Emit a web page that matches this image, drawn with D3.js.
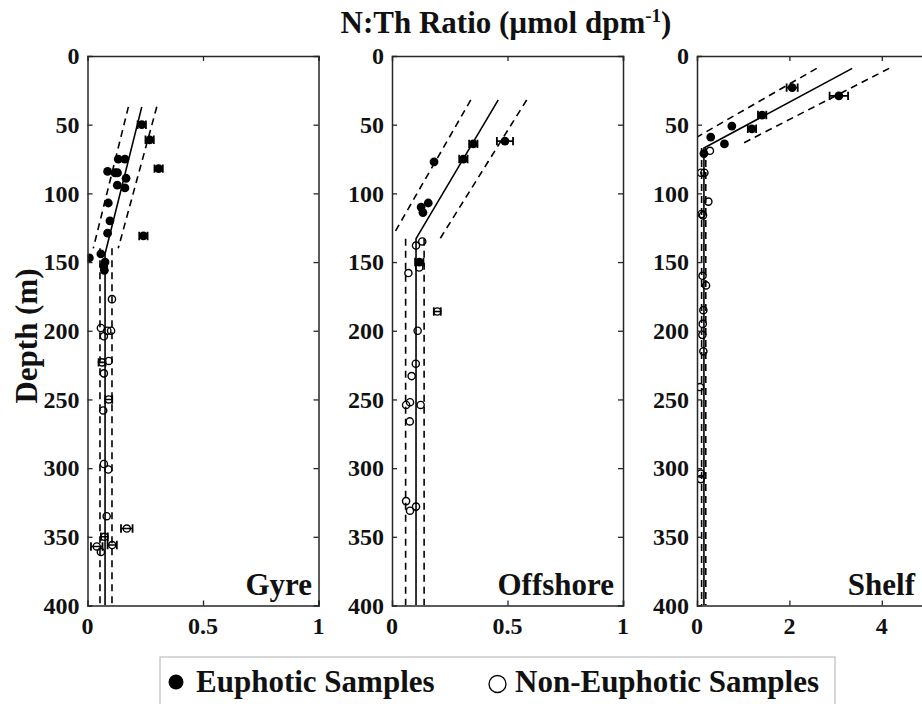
<!DOCTYPE html>
<html>
<head>
<meta charset="utf-8">
<script src="https://cdn.jsdelivr.net/npm/d3@7"></script>
<style>
  html, body { margin: 0; padding: 0; background: #fff; }
  svg { display: block; }
  text { font-family: "Liberation Serif", "Times New Roman", serif; font-weight: bold; fill: #111; }
</style>
</head>
<body>
<script>
// ---------------- DATA ----------------
const panelNames = ["Gyre", "Offshore", "Shelf"];
const xDomains = [[0, 1], [0, 1], [0, 5]];
const xTickValues = [[0, 0.5, 1], [0, 0.5, 1], [0, 2, 4]];
const yTickValues = [0, 50, 100, 150, 200, 250, 300, 350, 400];
const legendLabels = ["Euphotic Samples", "Non-Euphotic Samples"];

// points: [ratio, depth, horizontal error]
const gyreEuphotic = [
  [0.235, 50, 0.018], [0.269, 61, 0.018], [0.308, 82, 0.018], [0.242, 131, 0.018],
  [0.133, 75, 0], [0.162, 75, 0], [0.087, 84, 0], [0.119, 85, 0], [0.130, 85, 0],
  [0.167, 89, 0], [0.129, 94, 0], [0.162, 96, 0], [0.090, 107, 0], [0.097, 120, 0],
  [0.087, 129, 0], [0.008, 147, 0], [0.058, 144, 0], [0.076, 150, 0], [0.070, 153, 0],
  [0.073, 156, 0]
];
const gyreNonEuphotic = [
  [0.106, 177, 0], [0.058, 198, 0], [0.086, 200, 0], [0.071, 204, 0], [0.102, 200, 0],
  [0.063, 223, 0.015], [0.092, 222, 0], [0.071, 231, 0], [0.092, 250, 0.015],
  [0.068, 258, 0], [0.071, 297, 0], [0.090, 301, 0], [0.083, 335, 0],
  [0.170, 344, 0.025], [0.073, 350, 0.015], [0.107, 356, 0.02], [0.040, 357, 0.025],
  [0.058, 361, 0]
];
const offshoreEuphotic = [
  [0.352, 64, 0.018], [0.309, 75, 0.018], [0.489, 62, 0.035], [0.182, 77, 0],
  [0.157, 107, 0], [0.126, 110, 0], [0.134, 114, 0], [0.118, 150, 0.018]
];
const offshoreNonEuphotic = [
  [0.131, 135, 0], [0.104, 138, 0], [0.071, 158, 0], [0.118, 154, 0],
  [0.196, 186, 0.015], [0.111, 200, 0], [0.103, 224, 0], [0.085, 233, 0],
  [0.061, 254, 0], [0.078, 252, 0], [0.124, 254, 0], [0.077, 266, 0],
  [0.061, 324, 0], [0.104, 328, 0], [0.078, 331, 0]
];
const shelfEuphotic = [
  [2.06, 23, 0.12], [3.07, 29, 0.2], [1.41, 43, 0.09], [0.754, 51, 0],
  [1.19, 53, 0.09], [0.297, 59, 0], [0.594, 64, 0], [0.15, 71, 0]
];
const shelfNonEuphotic = [
  [0.28, 69, 0], [0.087, 85, 0], [0.16, 85, 0], [0.246, 106, 0], [0.10, 115, 0],
  [0.13, 116, 0], [0.12, 160, 0], [0.196, 167, 0], [0.138, 185, 0], [0.124, 195, 0],
  [0.116, 203, 0], [0.138, 215, 0], [0.065, 241, 0], [0.08, 304, 0], [0.08, 308, 0]
];

// fit lines: [ratio, depth]
const gyreFit = [[0.235, 37], [0.076, 144], [0.076, 400]];
const gyreLowerSlope = [[0.177, 37], [0.025, 140]];
const gyreUpperSlope = [[0.300, 37], [0.133, 140]];
const gyreLowerDeep = [[0.054, 140], [0.054, 400]];
const gyreUpperDeep = [[0.106, 140], [0.106, 400]];

const offshoreFit = [[0.46, 32], [0.104, 133], [0.104, 400]];
const offshoreLowerSlope = [[0.341, 32], [0.013, 128]];
const offshoreUpperSlope = [[0.583, 32], [0.208, 133]];
const offshoreLowerDeep = [[0.059, 133], [0.059, 400]];
const offshoreUpperDeep = [[0.139, 133], [0.139, 400]];

const shelfFit = [[3.36, 9], [0.15, 67], [0.15, 400]];
const shelfLowerSlope = [[2.59, 9], [0.0, 59]];
const shelfUpperSlope = [[4.16, 9], [0.97, 64]];
const shelfLowerDeep = [[0.10, 67], [0.10, 400]];
const shelfUpperDeep = [[0.19, 67], [0.19, 400]];

const panelEuphotic = [gyreEuphotic, offshoreEuphotic, shelfEuphotic];
const panelNonEuphotic = [gyreNonEuphotic, offshoreNonEuphotic, shelfNonEuphotic];
const panelFit = [gyreFit, offshoreFit, shelfFit];
const panelDashed = [
  [gyreLowerSlope, gyreUpperSlope, gyreLowerDeep, gyreUpperDeep],
  [offshoreLowerSlope, offshoreUpperSlope, offshoreLowerDeep, offshoreUpperDeep],
  [shelfLowerSlope, shelfUpperSlope, shelfLowerDeep, shelfUpperDeep]
];

// ---------------- LAYOUT ----------------
const W = 922, H = 704;
const panelLeft = [87.5, 392, 697];
const panelW = 231;
const plotTop = 56, plotBottom = 605.5;
const labelRightOffset = [6.5, 9, 13];
const axisColor = "#262626";
const tickLen = 5;

const svg = d3.select("body").append("svg").attr("width", W).attr("height", H);

const y = d3.scaleLinear().domain([0, 400]).range([plotTop, plotBottom]);

// Title
const title = svg.append("text")
  .attr("x", 506).attr("y", 33)
  .attr("text-anchor", "middle")
  .style("font-size", "31px");
title.append("tspan").text("N:Th Ratio (\u00B5mol dpm");
title.append("tspan").attr("dy", -11).style("font-size", "19px").text("-1");
title.append("tspan").attr("dy", 11).text(")");

// Y label
svg.append("text")
  .attr("transform", "translate(37,336) rotate(-90)")
  .attr("text-anchor", "middle")
  .style("font-size", "31px")
  .text("Depth (m)");

panelNames.forEach((name, i) => {
  const x = d3.scaleLinear().domain(xDomains[i]).range([panelLeft[i], panelLeft[i] + panelW]);
  const g = svg.append("g");
  const clipId = "clip" + i;
  svg.append("clipPath").attr("id", clipId)
    .append("rect").attr("x", panelLeft[i]).attr("y", plotTop)
    .attr("width", panelW).attr("height", plotBottom - plotTop);

  const plot = g.append("g").attr("clip-path", `url(#${clipId})`);
  const line = d3.line().x(d => x(d[0])).y(d => y(d[1]));

  // dashed confidence lines
  panelDashed[i].forEach(seg => {
    plot.append("path").datum(seg)
      .attr("d", line).attr("fill", "none")
      .attr("stroke", "#000").attr("stroke-width", 1.6)
      .attr("stroke-dasharray", "7,5");
  });
  // fit line
  plot.append("path").datum(panelFit[i])
    .attr("d", line).attr("fill", "none")
    .attr("stroke", "#000").attr("stroke-width", 1.6);

  // error bars
  const allPts = panelEuphotic[i].concat(panelNonEuphotic[i]).filter(d => d[2] > 0);
  allPts.forEach(d => {
    const x0 = x(d[0] - d[2]), x1 = x(d[0] + d[2]), yy = y(d[1]);
    plot.append("line").attr("x1", x0).attr("x2", x1).attr("y1", yy).attr("y2", yy)
      .attr("stroke", "#000").attr("stroke-width", 1.6);
    [x0, x1].forEach(xx => plot.append("line")
      .attr("x1", xx).attr("x2", xx).attr("y1", yy - 4.2).attr("y2", yy + 4.2)
      .attr("stroke", "#000").attr("stroke-width", 1.8));
  });

  // non-euphotic open circles
  plot.selectAll("circle.open").data(panelNonEuphotic[i]).enter().append("circle")
    .attr("class", "open")
    .attr("cx", d => x(d[0])).attr("cy", d => y(d[1])).attr("r", 3.6)
    .attr("fill", "none").attr("stroke", "#000").attr("stroke-width", 1.4);

  // euphotic filled circles
  plot.selectAll("circle.fill").data(panelEuphotic[i]).enter().append("circle")
    .attr("class", "fill")
    .attr("cx", d => x(d[0])).attr("cy", d => y(d[1])).attr("r", 4.4)
    .attr("fill", "#000");

  // axes (box with inward ticks)
  const xr = x.range();
  const axBottom = d3.axisBottom(x).tickValues(xTickValues[i]).tickSize(-tickLen).tickFormat("");
  const axTop = d3.axisTop(x).tickValues(xTickValues[i]).tickSize(-tickLen).tickFormat("");
  const axLeft = d3.axisLeft(y).tickValues(yTickValues).tickSize(-tickLen).tickFormat("");
  const axRight = d3.axisRight(y).tickValues(yTickValues).tickSize(-tickLen).tickFormat("");

  const axes = [
    g.append("g").attr("transform", `translate(0,${plotBottom})`).call(axBottom),
    g.append("g").attr("transform", `translate(0,${plotTop})`).call(axTop),
    g.append("g").attr("transform", `translate(${xr[0]},0)`).call(axLeft),
    g.append("g").attr("transform", `translate(${xr[1]},0)`).call(axRight)
  ];
  axes.forEach(a => {
    a.select(".domain").attr("stroke", axisColor).attr("stroke-width", 1.5);
    a.selectAll(".tick line").attr("stroke", axisColor).attr("stroke-width", 1.3);
    a.selectAll(".tick").filter(v => v === 0 || v === 400).select("line").remove();
  });

  // tick labels
  const fmt = v => (v === 0 ? "0" : d3.format("~g")(v));
  g.selectAll("text.xt").data(xTickValues[i]).enter().append("text")
    .attr("class", "xt")
    .attr("x", d => x(d)).attr("y", 634)
    .attr("text-anchor", "middle")
    .style("font-size", "24px")
    .text(fmt);
  g.selectAll("text.yt").data(yTickValues).enter().append("text")
    .attr("class", "yt")
    .attr("x", xr[0] - 8).attr("y", d => y(d))
    .attr("dy", "0.34em")
    .attr("text-anchor", "end")
    .style("font-size", "24px")
    .text(fmt);

  // panel label
  g.append("text")
    .attr("x", xr[1] - labelRightOffset[i]).attr("y", 595)
    .attr("text-anchor", "end")
    .style("font-size", "31px")
    .text(name);
});

// Legend
const leg = svg.append("g");
leg.append("rect").attr("x", 160).attr("y", 657).attr("width", 675).attr("height", 60)
  .attr("fill", "#fff").attr("stroke", "#bdbdbd").attr("stroke-width", 1.2);
leg.append("circle").attr("cx", 176).attr("cy", 682).attr("r", 7.5).attr("fill", "#000");
leg.append("text").attr("x", 196).attr("y", 692).style("font-size", "31px").text(legendLabels[0]);
leg.append("circle").attr("cx", 497.5).attr("cy", 684).attr("r", 8.5)
  .attr("fill", "none").attr("stroke", "#000").attr("stroke-width", 1.3);
leg.append("text").attr("x", 515).attr("y", 692).style("font-size", "31px").text(legendLabels[1]);
</script>
</body>
</html>
